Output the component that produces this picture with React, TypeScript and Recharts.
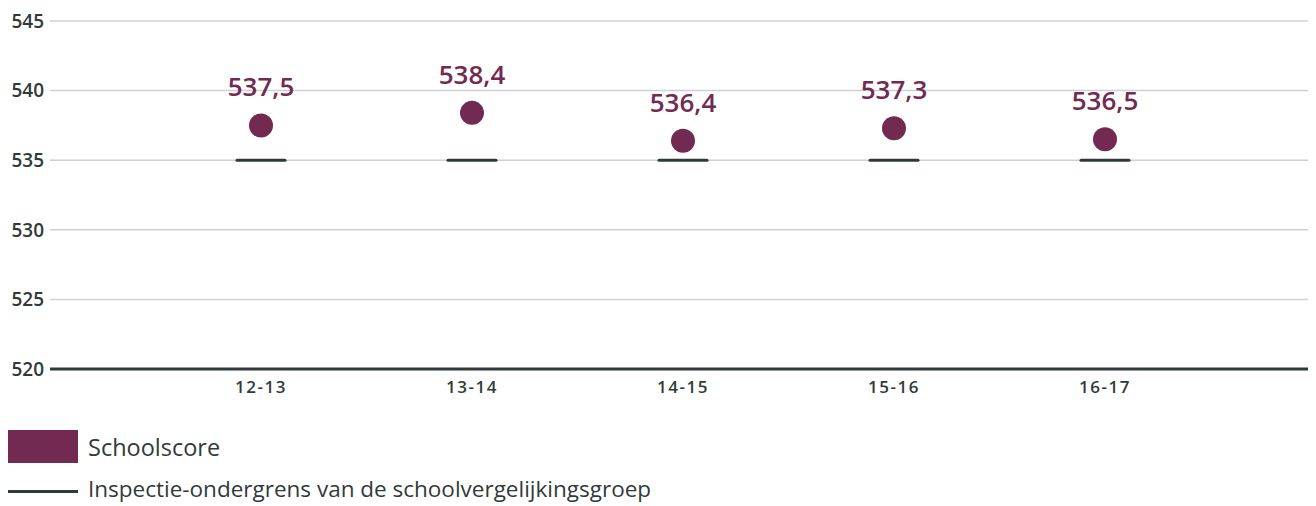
import React from 'react';
import { ComposedChart, Scatter, XAxis, YAxis, CartesianGrid } from 'recharts';

const categories = ['12-13', '13-14', '14-15', '15-16', '16-17'];
const schoolscore = [537.5, 538.4, 536.4, 537.3, 536.5];
const ondergrens = [535, 535, 535, 535, 535];
const yTicks = [520, 525, 530, 535, 540, 545];

const PURPLE = '#732a50';
const DARK = '#313a3a';
const FONT = '"Open Sans", "Noto Sans", sans-serif';

const data = categories.map((c, i) => ({
  x: i + 1,
  label: c,
  score: schoolscore[i],
  grens: ondergrens[i],
}));

const DotShape = (props: any) => {
  const { cx, cy, payload } = props;
  if (cx == null || cy == null) return null;
  const txt = String(payload.score.toFixed(1)).replace('.', ',');
  return (
    <g>
      <circle cx={cx} cy={cy} r={12} fill={PURPLE} />
      <text
        x={cx}
        y={cy - 29}
        textAnchor="middle"
        fill={PURPLE}
        fontFamily={FONT}
        fontWeight={600}
        fontSize={26}
      >
        {txt}
      </text>
    </g>
  );
};

const DashShape = (props: any) => {
  const { cx, cy } = props;
  if (cx == null || cy == null) return null;
  return <line x1={cx - 24} x2={cx + 24} y1={cy} y2={cy} stroke={DARK} strokeWidth={3} strokeLinecap="round" />;
};

export default function App() {
  return (
    <div style={{ position: 'relative', width: 1308, height: 498, fontFamily: FONT, overflow: 'hidden' }}>
      <ComposedChart width={1308} height={400} data={data} margin={{ top: 13, right: 0, left: 0, bottom: 0 }}>
        <CartesianGrid vertical={false} stroke="#cdd0d8" strokeWidth={1.5} />
        <XAxis
          type="number"
          dataKey="x"
          domain={[0, 6]}
          ticks={[1, 2, 3, 4, 5]}
          tickFormatter={(v: number) => categories[v - 1] ?? ''}
          axisLine={{ stroke: DARK, strokeWidth: 3 }}
          tickLine={false}
          tickMargin={6}
          height={39}
          tick={{ fill: DARK, fontSize: 17, fontWeight: 600, fontFamily: FONT, letterSpacing: 1.5 }}
        />
        <YAxis
          type="number"
          domain={[520, 545]}
          ticks={yTicks}
          axisLine={false}
          tickLine={false}
          tickMargin={0}
          width={42}
          tick={{ fill: DARK, fontSize: 19, fontWeight: 600, fontFamily: FONT }}
        />
        <Scatter dataKey="grens" shape={DashShape} isAnimationActive={false} />
        <Scatter dataKey="score" shape={DotShape} isAnimationActive={false} />
      </ComposedChart>
      <div style={{ position: 'absolute', left: 0, top: 422, width: 70, height: 33, background: PURPLE }} />
      <div style={{ position: 'absolute', left: 80, top: 426, height: 26, lineHeight: '26px', fontSize: 23.5, color: DARK, whiteSpace: 'nowrap' }}>
        Schoolscore
      </div>
      <div style={{ position: 'absolute', left: 0, top: 482, width: 70, height: 3, background: DARK }} />
      <div style={{ position: 'absolute', left: 80, top: 470, height: 22, lineHeight: '22px', fontSize: 22.5, color: DARK, whiteSpace: 'nowrap' }}>
        Inspectie-ondergrens van de schoolvergelijkingsgroep
      </div>
    </div>
  );
}
